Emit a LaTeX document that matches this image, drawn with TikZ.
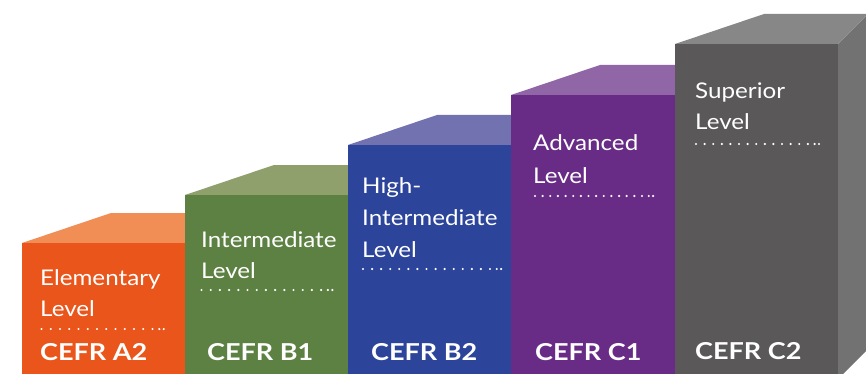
\documentclass[tikz,border=0pt]{standalone}
\usepackage{fontspec}
\setmainfont{Lato}
\newfontfamily\lblfont{Lato}[FakeStretch=1.12]
\newfontfamily\cefrfont{Lato}[FakeStretch=1.16]
\definecolor{aFront}{HTML}{E9551A}\definecolor{aTop}{HTML}{F08E56}
\definecolor{bFront}{HTML}{5D8142}\definecolor{bTop}{HTML}{8FA06D}
\definecolor{cFront}{HTML}{2C4499}\definecolor{cTop}{HTML}{7272B0}
\definecolor{dFront}{HTML}{692C86}\definecolor{dTop}{HTML}{9166A6}
\definecolor{eFront}{HTML}{5A5859}\definecolor{eTop}{HTML}{878787}\definecolor{eSide}{HTML}{727272}
\newcommand\stepbox[6]{%
  \fill[#6] (#2,#3) -- (#2+30,#3-30) -- (#2+30,349) -- (#2,379) -- cycle;
  \fill[#5] (#1,#3) -- (#1+89,#3-30) -- (#2+30,#3-30) -- (#2,#3) -- cycle;
  \fill[#4] (#1,#3) rectangle (#2,380);
}
\newcommand\dotrow[4]{%
  \foreach \i in {0,...,#3} \fill[white] (#1+\i*#4,#2) circle (1.2);
  \fill[white] (#1+#3*#4+6.8,#2) circle (1.2);
  \fill[white] (#1+#3*#4+11.2,#2) circle (1.2);
}
\begin{document}
\begin{tikzpicture}[x=1pt,y=-1pt,
  lbl/.style={anchor=base west, inner sep=0pt, text=white, font=\lblfont\fontsize{21.6}{26}\selectfont},
  cefr/.style={anchor=base west, inner sep=0pt, text=white, font=\cefrfont\fontsize{23.3}{28}\selectfont\bfseries}]
\useasboundingbox (0,0) rectangle (866,374);
\clip (0,0) rectangle (866,374);
\fill[white] (0,0) rectangle (866,374);
% boxes
\stepbox{22}{185}{243}{aFront}{aTop}{aTop}
\stepbox{185}{348}{195}{bFront}{bTop}{bTop}
\stepbox{348}{511}{145}{cFront}{cTop}{cTop}
\stepbox{511}{675}{95}{dFront}{dTop}{dTop}
\stepbox{675}{838}{44}{eFront}{eTop}{eSide}
% A2
\node[lbl] (a1) at (40,285) {Elementary};
\node[lbl] (a2) at (40,316) {Level};
\dotrow{41.5}{329}{12}{9.25}
\node[cefr] (a3) at (40,360) {CEFR A2};
% B1
\node[lbl] (b1) at (201,247) {Intermediate};
\node[lbl] (b2) at (201,278) {Level};
\dotrow{201.5}{290}{13}{9.2}
\node[cefr] (b3) at (207,360) {CEFR B1};
% B2
\node[lbl] (c1) at (362,193) {High-};
\node[lbl] (c2) at (362,225) {Intermediate};
\node[lbl] (c3) at (362,257) {Level};
\dotrow{363}{269}{14}{9.07}
\node[cefr] (c4) at (371,360) {CEFR B2};
% C1
\node[lbl] (d1) at (533,150) {Advanced};
\node[lbl] (d2) at (533,183) {Level};
\dotrow{535}{196}{14}{7.64}
\node[cefr] (d3) at (535,360) {CEFR C1};
% C2
\node[lbl] (e1) at (695,99) {Superior};
\node[lbl] (e2) at (695,130) {Level};
\dotrow{696}{144}{13}{8.6}
\node[cefr] (e3) at (695,359) {CEFR C2};
\end{tikzpicture}
\end{document}
